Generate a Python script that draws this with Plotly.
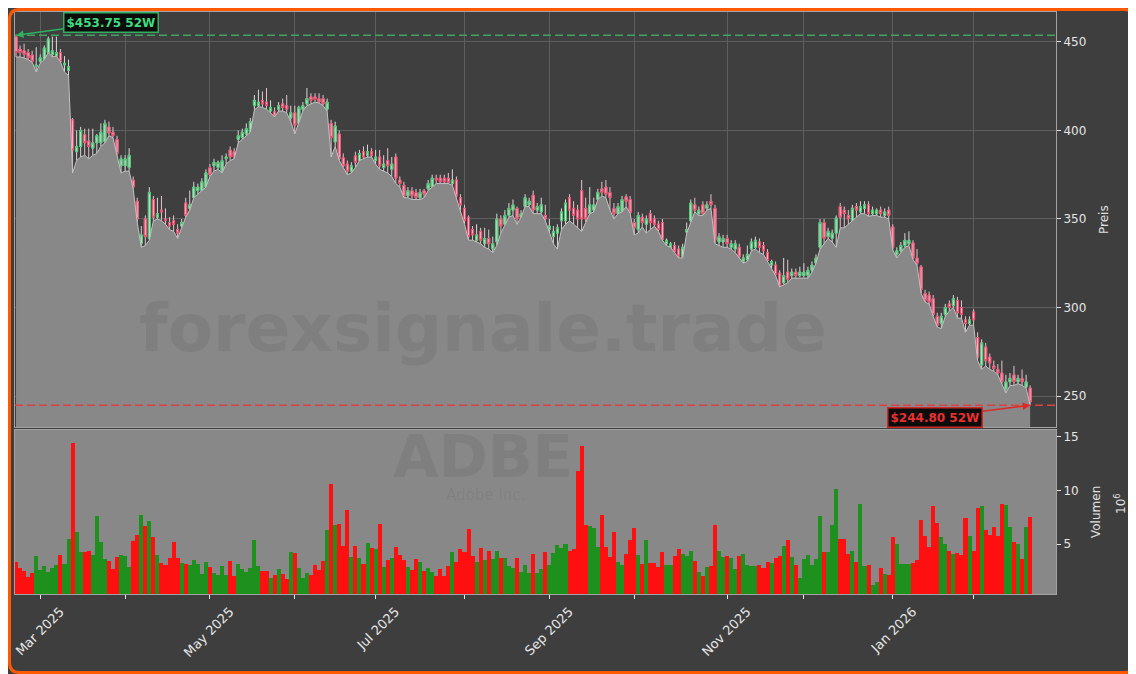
import pandas as pd
import plotly.graph_objects as go

# ---------------- data ----------------
HOLIDAYS = ["2025-04-18", "2025-05-26", "2025-06-19", "2025-07-04", "2025-09-01",
            "2025-11-27", "2025-12-25", "2026-01-01", "2026-01-19", "2026-02-16"]
trading_days = [d for d in pd.bdate_range("2025-02-21", "2026-02-23")
                if d.strftime("%Y-%m-%d") not in HOLIDAYS]
dates = [d.strftime("%Y-%m-%d") for d in trading_days]

opens = [453, 446, 445, 444, 442.6, 436, 439, 440, 444, 443, 442, 444,
         437, 434, 406, 388, 391, 397.6, 394, 390, 393, 393, 393.6, 402,
         399, 395, 380, 380, 379, 372, 360, 336, 350, 339, 361, 351,
         355, 350, 348, 349, 344, 346, 359, 356, 362, 366, 366, 368,
         379, 380, 379, 377, 384, 389, 388, 395, 396, 398, 399, 414,
         414, 417, 416, 411, 410.5, 412, 415, 414, 407, 410, 404, 412,
         415, 419, 419, 418, 418, 412, 404, 393.5, 398, 384.5, 381, 377,
         385.6, 383, 388, 386, 388, 383, 385, 379, 383, 378, 385, 372,
         369, 363, 366, 365, 362, 366, 367, 368, 373, 373, 373, 373,
         370, 372, 362, 356, 351, 344, 338, 343, 336, 339, 333, 337,
         350, 347, 352, 355, 356, 351, 357, 358, 363.5, 355, 354, 352,
         344, 340, 342, 349, 349, 362, 356, 355, 366, 356, 353, 355,
         361, 367, 368, 365, 356, 353, 354, 362.5, 361, 348, 344, 351,
         347, 353, 350, 347, 348, 336, 334, 335, 333, 328.5, 342.6, 349,
         358, 353, 358, 356, 360, 356, 337, 337, 339, 334, 333, 334,
         326, 327, 333, 334, 337, 335, 331, 324, 324, 319.5, 314, 320,
         318, 320, 318, 318, 318, 321, 325, 334, 348, 340, 339, 342,
         357, 355, 352, 349, 357, 354, 356, 358, 353, 353, 355, 352,
         355, 345.5, 330, 332, 335, 336, 336.5, 328, 323, 308, 307, 305,
         295, 291, 296, 302, 301, 304, 300, 293, 291, 297.5, 283, 267.5,
         277.7, 272, 267, 265, 263, 254, 258, 262, 258, 260, 255, 254.5]

highs = [453.75, 448, 449, 446, 445, 447, 443, 448, 453, 453, 453, 446,
         442, 440, 407, 400, 402, 401, 401, 401, 398, 404, 406, 405,
         402, 397, 386, 386, 390, 374, 362, 346, 352, 368, 363, 362,
         363, 356, 351, 352, 347, 350, 362, 366, 371, 370, 373, 378,
         381, 384, 383, 386, 387, 391, 390, 400, 401, 404, 407, 420,
         423, 422, 424, 417, 413, 416, 418, 420, 414, 414, 414, 416,
         424, 421, 421, 421, 420, 418, 406, 405, 400, 387, 383, 382,
         388, 389, 391, 392, 390, 389, 389, 386, 390, 385, 387, 374,
         371, 368, 368, 367, 367, 367, 372, 375, 375, 375, 375, 376,
         378, 374, 364, 358, 352, 346, 347, 345, 345, 344, 340, 353,
         352, 355, 359, 361, 357, 355, 364, 362, 366, 359, 362, 358,
         350, 346, 347, 356, 361, 364, 360, 358, 372, 362, 368, 362,
         367, 371, 372, 368, 359, 359, 363, 364, 363, 350, 354, 353,
         352, 355, 352, 349, 350, 339, 337, 337, 335, 336, 348, 361,
         362, 357, 360, 360, 364, 358, 342, 341, 341, 338, 338, 336,
         330, 335, 339, 340, 339, 337, 333, 327, 326, 321, 328, 327,
         322, 322, 323, 325, 323, 326, 330, 350, 350, 345, 344, 352,
         359, 357, 355, 358, 359, 360, 360, 360, 357, 356, 357, 356,
         357, 347, 334, 337, 342, 343, 338, 333, 324, 310, 309, 307,
         297, 297, 302, 304, 307, 306, 304, 295, 295, 299, 286, 282,
         280, 274, 270, 268, 270, 262, 263, 267, 262, 265, 262, 256]

lows = [441.5, 441.5, 441, 440, 438.5, 433, 438, 440, 444, 441.5, 442, 438.7,
        433, 431, 376, 383, 385, 386, 384, 386, 387, 391, 393, 397,
        396, 386, 376, 377, 377, 367, 348, 334, 335, 338, 349, 350,
        349, 347, 344, 343, 339, 345, 351, 355, 362, 364, 366, 368,
        374, 377, 378, 376, 381, 383, 384, 393, 395, 397, 399, 411.6,
        413.5, 413, 412, 410, 407.6, 411, 411, 410, 405, 398, 404, 411,
        414, 415, 416, 415.5, 414, 411, 385, 391, 383, 379, 375, 376,
        379, 383, 384, 385, 385, 381, 378, 377, 376, 374, 370, 368,
        362, 362, 361, 361, 361, 362, 366, 368, 370, 370, 370, 370,
        369, 362, 355, 347, 338, 338, 337, 336, 334, 333, 331, 335,
        342, 347, 351, 352, 347, 351, 357, 357, 353, 353, 353, 349,
        342, 336, 333, 344, 347, 349, 347, 345, 343, 348, 353, 354,
        361, 363, 362, 355, 350, 353, 354, 357, 353, 341, 342, 345.6,
        342, 344, 346, 343, 338, 335, 334, 331, 328, 328, 342, 348,
        354, 352, 352, 355, 356, 336, 335, 334, 334, 333, 331, 328,
        325, 326, 332, 333, 331, 330, 326, 322, 318, 311.6, 313, 314,
        316.6, 316.6, 317, 317, 316.6, 320, 325, 333, 336, 339, 337, 334,
        345, 345, 347, 349, 351, 353, 353, 351.5, 352, 352, 351, 351,
        350, 332.5, 328, 331, 334, 335, 327, 324, 308, 303, 302, 295,
        289, 288, 295, 298, 300, 294, 294, 286, 290, 290, 270, 265,
        267, 265, 264, 262, 257, 251.7, 256, 256, 257, 256, 254.5, 244.8]

closes = [444, 444, 443, 441, 439, 437, 441, 446.6, 451.7, 445, 444, 439,
          438, 436, 389, 391, 400, 393, 391, 393, 397, 399, 404, 398.6,
          397, 387, 384, 384, 386, 368, 350, 341, 340, 365, 351, 353,
          354, 349, 346, 347, 342, 348, 352, 358, 368, 368, 371, 376,
          375, 382, 382, 383, 385, 385, 385, 397, 399, 401, 405, 417,
          416, 415, 414, 413, 408, 414, 413, 412, 410, 403, 413, 414,
          418, 417, 417.5, 416, 415, 416, 396, 402.5, 384, 380, 377, 380,
          382, 387, 385, 388, 386, 385, 380, 381, 380, 381, 373, 370,
          362.5, 366, 363, 362, 365, 364, 370, 373, 372, 371, 371, 370.5,
          372, 363, 358, 349, 340, 341, 341, 338, 339, 336, 336, 350,
          346, 352, 356, 358, 350, 353, 362, 360, 355, 357, 358, 350,
          346, 343, 345, 354, 359, 355, 352, 350, 350, 350, 358, 358,
          365, 365, 364, 362, 353, 357, 361, 360, 353.5, 345, 352, 348,
          350, 348, 347, 344, 338.5, 338, 336, 331.5, 329, 334, 344, 359,
          355, 355, 353, 358, 358, 338, 340, 339, 336, 336, 336, 328.5,
          328, 330, 337, 338, 334, 332, 326.5, 326, 318.5, 312, 318, 316,
          320, 318, 320, 320, 321, 324, 328, 348, 339, 343, 342, 350.6,
          351, 353, 350, 356, 355, 357, 358, 353, 355, 355, 353, 354,
          352, 334, 332, 335, 338, 338, 328, 325, 310, 304, 303, 296,
          290, 295, 300, 300, 305, 297, 296, 291, 293, 293, 272, 280,
          270, 268.6, 265.5, 263, 258, 258, 260, 258, 260, 258, 258, 246.6]

volumes = [3.29, 2.73, 2.51, 1.95, 2.26, 3.88, 2.57, 2.94, 2.38, 2.76, 3.04, 3.97,
           3.13, 5.47, 14.47, 6.12, 4.22, 4.22, 4.35, 3.97, 7.62, 5.19, 3.60, 3.41,
           2.66, 3.79, 3.97, 3.88, 2.85, 5.28, 5.84, 7.71, 6.68, 7.15, 5.65, 3.97,
           3.22, 3.04, 3.69, 5.19, 3.69, 3.22, 3.13, 3.04, 3.50, 3.13, 2.20, 3.32,
           2.85, 2.29, 2.10, 2.94, 2.10, 3.41, 2.01, 3.13, 2.66, 2.38, 2.76, 5.37,
           2.94, 2.48, 2.48, 1.82, 2.10, 2.66, 2.20, 1.73, 4.25, 4.16, 2.76, 1.82,
           2.29, 2.10, 3.04, 2.57, 3.41, 6.31, 10.61, 6.78, 6.87, 4.81, 8.18, 3.79,
           4.81, 3.69, 3.13, 5.09, 4.63, 4.53, 6.87, 2.85, 3.50, 3.69, 4.72, 3.97,
           3.50, 2.85, 2.57, 3.60, 3.32, 2.48, 2.76, 2.38, 2.01, 2.66, 2.01, 2.94,
           4.25, 3.32, 4.53, 4.25, 6.40, 3.88, 3.32, 4.63, 3.50, 4.35, 3.60, 4.35,
           3.69, 3.69, 2.94, 2.76, 3.69, 2.38, 3.04, 2.29, 4.07, 2.29, 2.66, 4.25,
           3.04, 4.16, 4.91, 4.63, 5.00, 4.35, 4.53, 11.82, 14.16, 6.78, 6.68, 6.50,
           4.72, 7.71, 4.72, 3.79, 6.12, 3.32, 3.04, 4.07, 5.37, 6.50, 3.97, 3.13,
           5.37, 3.22, 3.22, 2.85, 4.25, 3.04, 3.04, 3.88, 4.53, 4.07, 3.88, 4.35,
           3.41, 2.38, 2.01, 2.85, 2.94, 6.78, 4.35, 3.79, 3.88, 3.69, 2.66, 3.88,
           4.07, 3.04, 2.94, 2.94, 3.04, 2.76, 3.32, 3.19, 3.69, 3.88, 4.81, 5.37,
           3.79, 3.04, 1.82, 3.60, 3.97, 3.04, 3.60, 7.62, 4.25, 4.25, 6.78, 10.14,
           5.47, 5.47, 4.07, 4.35, 3.32, 8.74, 2.94, 3.04, 1.17, 1.45, 2.76, 2.20,
           2.10, 5.65, 5.00, 3.13, 3.13, 3.13, 3.22, 3.50, 7.24, 5.75, 4.72, 8.55,
           6.96, 5.65, 5.00, 4.35, 4.07, 4.16, 3.97, 7.43, 5.75, 4.35, 8.36, 8.55,
           6.31, 5.84, 6.59, 5.75, 8.74, 8.64, 6.59, 5.19, 5.00, 3.60, 6.59, 7.52]

MONTH_LABELS = ["Mar 2025", "", "May 2025", "", "Jul 2025", "", "Sep 2025", "",
                "Nov 2025", "", "Jan 2026", ""]
PRICE_TICKS = [250, 300, 350, 400, 450]
VOLUME_TICKS = [5, 10, 15]
TICKER = "ADBE"
COMPANY = "Adobe Inc."
WATERMARK = "forexsignale.trade"

# ---------------- derived ----------------
n = min(len(dates), len(opens), len(highs), len(lows), len(closes), len(volumes))
dates = dates[:n]
opens, highs, lows, closes, volumes = opens[:n], highs[:n], lows[:n], closes[:n], volumes[:n]

tick_dates, seen = [], set()
for d in trading_days[:n]:
    key = (d.year, d.month)
    if key not in seen:
        seen.add(key)
        tick_dates.append(d.strftime("%Y-%m-%d"))
tick_dates = tick_dates[1:]  # first entry is the partial start month
tick_labels = MONTH_LABELS[:len(tick_dates)]

body_top = [max(o, c) for o, c in zip(opens, closes)]
body_bot = [min(o, c) for o, c in zip(opens, closes)]
vol_colors = ["#1e901e" if c >= o else "#ff1010" for o, c in zip(opens, closes)]
hi52 = max(highs)
lo52 = min(lows)

# ---------------- figure geometry ----------------
# the page body has an 8px offset; the figure is sized so that it fits the window
OFF = 8
W, H = 1136 - OFF, 674 - OFF
ML, MR, MT, MB = 15 - OFF, 80, 12 - OFF, 80
PW, PH = W - ML - MR, H - MT - MB


def PX(px):  # page pixel -> paper x
    return (px - OFF - ML) / PW


def PY(py):  # page pixel -> paper y
    return (OFF + MT + PH - py) / PH


fig = go.Figure()

fig.add_trace(go.Scatter(
    x=dates, y=lows, mode="lines", line=dict(color="#c2c2c2", width=1),
    fill="tozeroy", fillcolor="#888888", hoverinfo="skip", showlegend=False,
    xaxis="x", yaxis="y"))

# wicks (light)
fig.add_trace(go.Candlestick(
    x=dates, open=opens, high=highs, low=lows, close=closes,
    increasing=dict(line=dict(color="#d9d9d9", width=1), fillcolor="rgba(0,0,0,0)"),
    decreasing=dict(line=dict(color="#e3c3cb", width=1), fillcolor="rgba(0,0,0,0)"),
    showlegend=False, hoverinfo="skip", xaxis="x", yaxis="y"))

# coloured bodies
fig.add_trace(go.Candlestick(
    x=dates, open=opens, high=body_top, low=body_bot, close=closes,
    increasing=dict(line=dict(color="#45c870", width=1), fillcolor="#c8e4cd"),
    decreasing=dict(line=dict(color="#f24468", width=1), fillcolor="#f4c0cc"),
    showlegend=False, xaxis="x", yaxis="y"))

fig.add_trace(go.Bar(
    x=dates, y=volumes, marker=dict(color=vol_colors, line=dict(width=0)),
    showlegend=False, xaxis="x2", yaxis="y2"))

axis_common = dict(zeroline=False, showline=True, mirror=True, linecolor="#a3a3a3",
                   linewidth=1, automargin=False)
tickfont = dict(family="DejaVu Sans", size=12, color="#e6e6e6")
xtickfont = dict(family="DejaVu Sans", size=13, color="#e6e6e6")

fig.update_layout(
    width=W, height=H, autosize=False,
    margin=dict(l=ML, r=MR, t=MT, b=MB, pad=0),
    paper_bgcolor="#3e3e3e", plot_bgcolor="#3f3f3f",
    font=dict(family="DejaVu Sans", color="#e6e6e6", size=12),
    bargap=0, showlegend=False,
    xaxis=dict(domain=[0, 1], anchor="y", type="category", range=[-0.25, 257.4],
               tickmode="array", tickvals=tick_dates, showticklabels=False, ticks="",
               showgrid=True, gridcolor="#5e5e5e", gridwidth=1,
               rangeslider=dict(visible=False), **axis_common),
    yaxis=dict(domain=[PY(427), 1], anchor="x", side="right", range=[232.5, 466.9],
               tickmode="array", tickvals=PRICE_TICKS, ticks="outside", ticklen=4,
               tickcolor="#e6e6e6", tickfont=tickfont, showgrid=True,
               gridcolor="#5e5e5e", gridwidth=1, **axis_common),
    xaxis2=dict(domain=[0, 1], anchor="y2", type="category", matches="x",
                tickmode="array", tickvals=tick_dates, ticktext=tick_labels,
                tickangle=-45, ticklabelshift=20, ticks="outside", ticklen=4,
                tickcolor="#e6e6e6", tickfont=xtickfont, showgrid=False, **axis_common),
    yaxis2=dict(domain=[0, PY(430)], anchor="x2", side="right", range=[0.33, 15.65],
                tickmode="array", tickvals=VOLUME_TICKS, ticks="outside", ticklen=4,
                tickcolor="#e6e6e6", tickfont=tickfont, showgrid=False, **axis_common),
)

shapes = [
    dict(type="rect", xref="x2 domain", yref="y2 domain", x0=0, x1=1, y0=0, y1=1,
         fillcolor="#888888", line=dict(width=0), layer="below"),
    dict(type="line", xref="x domain", yref="y", x0=0, x1=1, y0=hi52, y1=hi52,
         line=dict(color="#3ea462", width=1.6, dash="8px,4px")),
    dict(type="line", xref="x domain", yref="y", x0=0, x1=1, y0=lo52, y1=lo52,
         line=dict(color="#dd4040", width=1.6, dash="8px,4px")),
]
r = 10
L, R, T, B = OFF + 1.5, 1136 - 1.5, OFF + 1.5, 674 - 1.5
frame = (f"M {PX(L + r)},{PY(T)} L {PX(R - r)},{PY(T)} Q {PX(R)},{PY(T)} {PX(R)},{PY(T + r)} "
         f"L {PX(R)},{PY(B - r)} Q {PX(R)},{PY(B)} {PX(R - r)},{PY(B)} "
         f"L {PX(L + r)},{PY(B)} Q {PX(L)},{PY(B)} {PX(L)},{PY(B - r)} "
         f"L {PX(L)},{PY(T + r)} Q {PX(L)},{PY(T)} {PX(L + r)},{PY(T)} Z")
shapes.append(dict(type="path", xref="paper", yref="paper", path=frame,
                   line=dict(color="#ff5a00", width=3), fillcolor="rgba(0,0,0,0)",
                   layer="above"))
fig.update_layout(shapes=shapes)

wm_color = "rgba(45,45,45,0.09)"
title_font = dict(family="DejaVu Sans", size=12, color="#e0e0e0")
annotations = [
    dict(text=f"<b>{WATERMARK}</b>", xref="paper", yref="paper", x=PX(483), y=PY(328),
         xanchor="center", yanchor="middle", showarrow=False,
         font=dict(family="DejaVu Sans", size=66, color=wm_color)),
    dict(text=f"<b>{TICKER}</b>", xref="paper", yref="paper", x=PX(483), y=PY(457),
         xanchor="center", yanchor="middle", showarrow=False,
         font=dict(family="DejaVu Sans", size=59, color=wm_color)),
    dict(text=COMPANY, xref="paper", yref="paper", x=PX(485), y=PY(495),
         xanchor="center", yanchor="middle", showarrow=False,
         font=dict(family="DejaVu Sans", size=15, color=wm_color)),
    # axis titles
    dict(text="Preis", xref="paper", yref="paper", x=PX(1104), y=PY(220),
         xanchor="center", yanchor="middle", textangle=-90, showarrow=False, font=title_font),
    dict(text="Volumen", xref="paper", yref="paper", x=PX(1096), y=PY(512),
         xanchor="center", yanchor="middle", textangle=-90, showarrow=False, font=title_font),
    dict(text="10<sup>6</sup>", xref="paper", yref="paper", x=PX(1120), y=PY(504),
         xanchor="center", yanchor="middle", textangle=-90, showarrow=False, font=title_font),
    # 52-week markers
    dict(text=f"<b>${hi52:.2f} 52W</b>", x=dates[0], y=hi52, xref="x", yref="y",
         ax=95, ay=-13, showarrow=True, arrowhead=2, arrowsize=1, arrowwidth=1.5,
         arrowcolor="#2fb060", bgcolor="#0c0c0c", bordercolor="#2fb060",
         borderwidth=1.5, borderpad=2,
         font=dict(family="DejaVu Sans", size=12, color="#3ddc7e")),
    dict(text=f"<b>${lo52:.2f} 52W</b>", x=dates[-1], y=lo52, xref="x", yref="y",
         ax=-95, ay=12, showarrow=True, arrowhead=2, arrowsize=1, arrowwidth=1.5,
         arrowcolor="#e02828", bgcolor="#0c0c0c", bordercolor="#d02828",
         borderwidth=1.5, borderpad=2,
         font=dict(family="DejaVu Sans", size=12, color="#e83030")),
]
fig.update_layout(annotations=annotations)

fig.write_html("out.html")
